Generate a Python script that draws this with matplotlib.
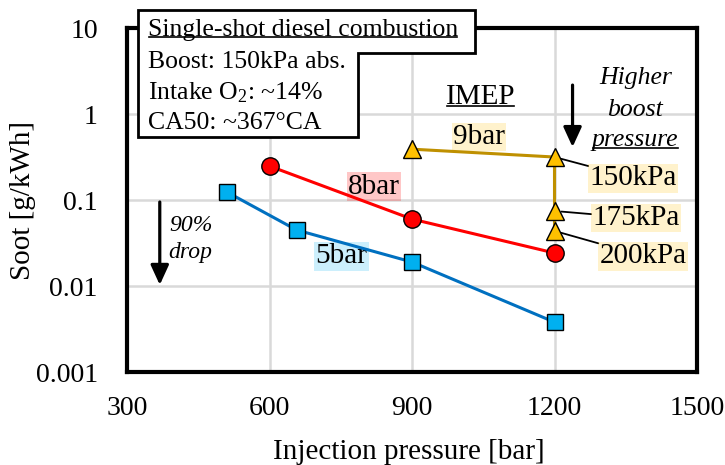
import matplotlib
matplotlib.use("Agg")
import matplotlib.pyplot as plt
from matplotlib.patches import Polygon
from matplotlib.lines import Line2D

plt.rcParams['font.family'] = ['Liberation Serif', 'DejaVu Serif']
plt.rcParams['mathtext.fontset'] = 'custom'
plt.rcParams['mathtext.rm'] = 'Liberation Serif'
plt.rcParams['mathtext.it'] = 'Liberation Serif:italic'

# data
p_5bar = [510, 657, 900, 1200]
soot_5bar = [0.124, 0.0448, 0.019, 0.0038]
p_8bar = [600, 900, 1200]
soot_8bar = [0.248, 0.060, 0.0242]
p_9bar = [900, 1200, 1200, 1200]
soot_9bar = [0.39, 0.316, 0.0745, 0.0437]
boost_labels = ['150kPa', '175kPa', '200kPa']
boost_label_pos = [(1366, 0.18), (1372, 0.0618), (1387, 0.0223)]
x_ticks = [300, 600, 900, 1200, 1500]
y_ticks = [0.001, 0.01, 0.1, 1, 10]
y_ticklabels = ['0.001', '0.01', '0.1', '1', '10']

W, H = 725, 465
fig = plt.figure(figsize=(W / 100, H / 100), dpi=100)
ax = fig.add_axes([127 / W, 1 - 372 / H, 570 / W, 344 / H])


def fpx(x, y):
    return (x / W, 1 - y / H)


ax.set_yscale('log')
ax.set_xlim(300, 1500)
ax.set_ylim(0.001, 10)
ax.set_xticks(x_ticks)
ax.set_yticks(y_ticks)
ax.set_yticklabels(y_ticklabels)
ax.minorticks_off()
ax.tick_params(axis='both', length=0, labelsize=20)
ax.tick_params(axis='x', pad=17)
ax.tick_params(axis='y', pad=21)
ax.grid(True, color='#D9D9D9', lw=1.8)
ax.set_axisbelow(True)
for s in ax.spines.values():
    s.set_linewidth(3)
    s.set_color('black')

ax.plot(p_5bar, soot_5bar, color='#0070C0', lw=2.2, marker='s', ms=12,
        mfc='#00B0F0', mec='black', mew=1, zorder=4)
ax.plot(p_8bar, soot_8bar, color='#FF0000', lw=2.2, marker='o', ms=12.5,
        mfc='#FF0000', mec='black', mew=1, zorder=4)
ax.plot(p_9bar, soot_9bar, color='#BF9000', lw=2.2, marker='^', ms=13,
        mfc='#FFC000', mec='black', mew=1, zorder=4)

fs = 21
ax.text(820, 0.142, '8bar', fontsize=fs, ha='center', va='center', zorder=3,
        bbox=dict(boxstyle='square,pad=0.05', fc='#FF0000', alpha=0.22, ec='none'))
ax.text(751, 0.0223, '5bar', fontsize=fs, ha='center', va='center', zorder=3,
        bbox=dict(boxstyle='square,pad=0.05', fc='#00B0F0', alpha=0.2, ec='none'))
ax.text(1041, 0.54, '9bar', fontsize=fs, ha='center', va='center', zorder=3,
        bbox=dict(boxstyle='square,pad=0.05', fc='#FFC000', alpha=0.2, ec='none'))
imep = ax.text(1044, 1.58, 'IMEP', fontsize=fs, ha='center', va='center', zorder=3)

for i, lab in enumerate(boost_labels):
    ax.annotate(lab, xy=(p_9bar[i + 1], soot_9bar[i + 1]), xytext=boost_label_pos[i],
                fontsize=fs, ha='center', va='center', zorder=3,
                bbox=dict(boxstyle='square,pad=0.05', fc='#FFC000', alpha=0.2, ec='none'),
                arrowprops=dict(arrowstyle='-', color='black', lw=1.3,
                                shrinkA=0, shrinkB=5))

ax.text(1370, 2.62, 'Higher', fontsize=18.5, style='italic', ha='center', va='center')
ax.text(1370, 1.11, 'boost', fontsize=18.5, style='italic', ha='center', va='center')
press = ax.text(1370, 0.5, 'pressure', fontsize=18.5, style='italic', ha='center', va='center')
ax.annotate('', xy=(1238, 0.413), xytext=(1238, 2.17),
            arrowprops=dict(arrowstyle='-|>,head_length=1.2,head_width=0.55',
                            color='black', lw=2.3, shrinkA=0, shrinkB=0))

ax.text(434, 0.0512, '90%', fontsize=17, style='italic', ha='center', va='center')
ax.text(434, 0.0242, 'drop', fontsize=17, style='italic', ha='center', va='center')
ax.annotate('', xy=(369, 0.0103), xytext=(369, 0.0948),
            arrowprops=dict(arrowstyle='-|>,head_length=1.2,head_width=0.55',
                            color='black', lw=2.3, shrinkA=0, shrinkB=0))

fig.text(*fpx(409, 459), 'Injection pressure [bar]', fontsize=21, ha='center', va='baseline')
fig.text(*fpx(23, 201), 'Soot [g/kWh]', fontsize=21, ha='center', va='center', rotation=90)

# info box over the top left corner
box = Polygon([fpx(138, 10), fpx(475, 10), fpx(475, 53), fpx(358, 53),
               fpx(358, 137), fpx(138, 137)], closed=True, fc='white', ec='black',
              lw=2, transform=fig.transFigure, zorder=2)
fig.patches.append(box)
title = fig.text(*fpx(148, 30), 'Single-shot diesel combustion', fontsize=18.5,
                 ha='left', va='center', zorder=3)
fig.text(*fpx(148, 62), 'Boost: 150kPa abs.', fontsize=18.5, ha='left', va='center', zorder=3)
fig.text(*fpx(148, 93), 'Intake O$_2$: ~14%', fontsize=18.5, ha='left', va='center', zorder=3)
fig.text(*fpx(148, 123), 'CA50: ~367°CA', fontsize=18.5, ha='left', va='center', zorder=3)

# underlines
fig.canvas.draw()
for t, off in [(title, 4), (imep, 4), (press, 3)]:
    bb = t.get_window_extent()
    yline = bb.y0 + off
    fig.lines.append(Line2D([bb.x0 + 1, bb.x1 - 1], [yline, yline], transform=None,
                            color='black', lw=1.2, zorder=4))

fig.savefig('out.png', dpi=100)
